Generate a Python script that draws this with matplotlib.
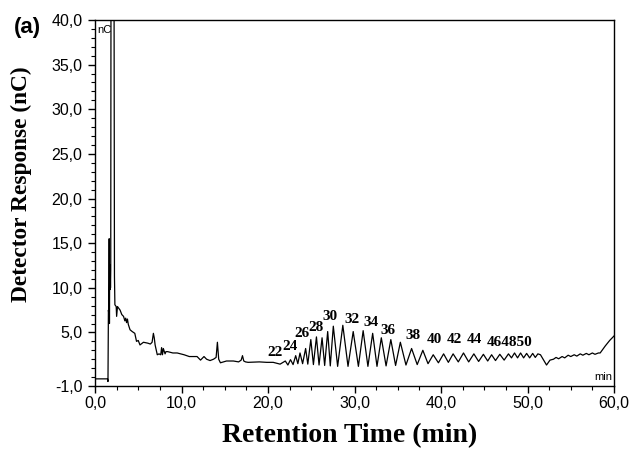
import matplotlib
matplotlib.use("Agg")
import matplotlib.pyplot as plt
from matplotlib.ticker import FixedLocator, MultipleLocator

# --- Dane ---
# czas retencji [min] i odpowiedz detektora [nC]
czas_start = [0.0, 1.45, 1.5, 1.55, 1.6, 1.64, 1.67, 1.7, 1.73, 1.76, 1.79, 1.82,
              1.85, 2.2, 2.25, 2.3, 2.45, 2.5, 2.6, 2.9, 3.1, 3.3, 3.45, 3.55, 3.65,
              3.75, 3.85, 4.05, 4.3, 4.6, 4.8, 5.0, 5.2, 5.6, 6.1, 6.4, 6.6, 6.75,
              6.85, 6.95, 7.2, 7.4, 7.6, 7.7, 7.8, 7.9, 8.1, 8.2, 8.4, 9.0, 9.5,
              10.3, 10.9, 11.8, 12.2, 12.6, 12.9, 13.3, 13.7, 14.0, 14.15, 14.3,
              14.5, 15.2, 16.0, 16.6, 16.9, 17.05, 17.2, 17.4, 17.7, 19.0, 19.85,
              20.6, 21.0, 21.4]
sygnal_start = [-0.2, -0.2, -0.5, 7.5, 7.0, 15.5, 6.0, 12.6, 9.8, 12.3, 10.0, 12.0,
                45.0, 45.0, 11.3, 8.1, 7.9, 6.8, 7.9, 7.5, 7.0, 6.8, 6.3, 6.6, 6.1,
                6.5, 5.9, 5.3, 5.1, 4.9, 4.0, 4.1, 3.6, 3.9, 3.8, 3.7, 3.9, 4.9,
                4.4, 3.6, 2.5, 2.6, 2.5, 3.3, 2.5, 3.2, 2.6, 2.85, 2.85, 2.7, 2.7,
                2.5, 2.3, 2.3, 1.9, 2.3, 2.0, 1.85, 2.0, 2.2, 3.9, 2.0,
                1.6, 1.8, 1.8, 1.7, 1.9, 2.4, 1.8, 1.7, 1.65, 1.7, 1.65,
                1.65, 1.55, 1.45]

# n-alkany: szczyty i doliny
czas_piki = [22.0, 22.3, 22.6, 22.9, 23.2, 23.45, 23.7, 24.0, 24.35, 24.6, 24.95,
             25.25, 25.6, 25.9, 26.25, 26.55, 26.9, 27.2, 27.55, 28.05, 28.65, 29.25,
             29.85, 30.45, 31.0, 31.55, 32.1, 32.6, 33.1, 33.65, 34.2, 34.75, 35.3,
             35.95, 36.6, 37.25, 37.9, 38.5, 39.1, 39.7, 40.3, 40.85, 41.4, 42.0,
             42.6, 43.2, 43.8, 44.35, 44.9, 45.4, 45.85, 46.3, 46.8, 47.3, 47.8,
             48.15, 48.5, 48.85, 49.2, 49.55, 49.9, 50.25, 50.6, 50.9, 51.2, 51.5,
             51.8, 52.2, 52.6, 53.0, 53.3, 53.6, 54.0, 54.3, 54.7, 55.0, 55.4,
             55.7, 56.1, 56.4, 56.8, 57.1, 57.5, 57.8, 58.2, 58.4, 59.0, 59.5, 60.0]
sygnal_piki = [1.8, 1.35, 1.95, 1.4, 2.4, 1.5, 2.7, 1.5, 3.2, 1.45, 4.2,
               1.4, 4.5, 1.35, 4.4, 1.3, 5.1, 1.25, 5.7, 1.2, 5.8, 1.2,
               5.1, 1.2, 5.2, 1.2, 4.9, 1.2, 4.4, 1.25, 4.2, 1.3, 3.9,
               1.35, 3.2, 1.4, 3.0, 1.5, 2.5, 1.6, 2.6, 1.65, 2.6, 1.7,
               2.7, 1.7, 2.6, 1.75, 2.55, 1.8, 2.5, 1.85, 2.55, 1.9, 2.6,
               2.15, 2.7, 2.15, 2.7, 2.15, 2.65, 2.15, 2.65, 2.2, 2.6, 2.5,
               2.0, 1.35, 1.9, 2.0, 2.2, 2.05, 2.3, 2.15, 2.45, 2.3, 2.5,
               2.35, 2.6, 2.45, 2.65, 2.5, 2.7, 2.55, 2.7, 2.7, 3.5, 4.1, 4.6]

# etykiety liczby atomow wegla
etykiety = ['22', '24', '26', '28', '30', '32', '34', '36', '38', '40', '42', '44', '464850']
etykiety_t = [20.8, 22.6, 23.9, 25.55, 27.2, 29.7, 31.9, 33.9, 36.8, 39.2, 41.5, 43.9, 47.9]
etykiety_v = [2.7, 3.4, 4.85, 5.6, 6.75, 6.5, 6.1, 5.2, 4.7, 4.2, 4.2, 4.2, 3.9]

# osie
x_ticks = [0, 10, 20, 30, 40, 50, 60]
x_tick_labels = ['0,0', '10,0', '20,0', '30,0', '40,0', '50,0', '60,0']
y_ticks = [-1, 5, 10, 15, 20, 25, 30, 35, 40]
y_tick_labels = ['-1,0', '5,0', '10,0', '15,0', '20,0', '25,0', '30,0', '35,0', '40,0']

czas = czas_start + czas_piki
sygnal = sygnal_start + sygnal_piki

fig = plt.figure(figsize=(6.32, 4.5), dpi=100)
ax = fig.add_axes([95 / 632, 64 / 450, 519 / 632, 366 / 450])

ax.plot(czas, sygnal, color='black', linewidth=0.9)
ax.set_xlim(0, 60)
ax.set_ylim(-1, 40)

for t, v, s in zip(etykiety_t, etykiety_v, etykiety):
    ax.text(t, v, s, ha='center', va='center', fontsize=11,
            family='Liberation Serif', fontweight='bold')

ax.xaxis.set_major_locator(FixedLocator(x_ticks))
ax.set_xticklabels(x_tick_labels)
ax.xaxis.set_minor_locator(MultipleLocator(2.5))
ax.yaxis.set_major_locator(FixedLocator(y_ticks))
ax.set_yticklabels(y_tick_labels)
ax.yaxis.set_minor_locator(MultipleLocator(1))

ax.tick_params(axis='both', which='major', direction='out', length=5, width=1,
               labelsize=11.5, pad=2)
ax.tick_params(axis='both', which='minor', direction='out', length=3, width=0.8)
ax.tick_params(axis='y', which='major', pad=4)
for lab in ax.get_xticklabels() + ax.get_yticklabels():
    lab.set_family('Liberation Sans')
for sp in ax.spines.values():
    sp.set_linewidth(1.0)

ax.text(0.005, 0.985, 'nC', transform=ax.transAxes, ha='left', va='top',
        fontsize=8, family='Liberation Sans')
ax.text(0.997, 0.012, 'min', transform=ax.transAxes, ha='right', va='bottom',
        fontsize=8, family='Liberation Sans')

fig.text(14 / 632, 1 - 28 / 450, '(a)', ha='left', va='center', fontsize=16,
         family='Liberation Sans', fontweight='bold')
fig.text(21 / 632, 1 - 184 / 450, 'Detector Response (nC)', rotation=90,
         ha='center', va='center', fontsize=16.8, family='Liberation Serif',
         fontweight='bold')
fig.text(350 / 632, 1 - 436 / 450, 'Retention Time (min)', ha='center',
         va='center', fontsize=20, family='Liberation Serif', fontweight='bold')

fig.savefig('out.png', dpi=100)
